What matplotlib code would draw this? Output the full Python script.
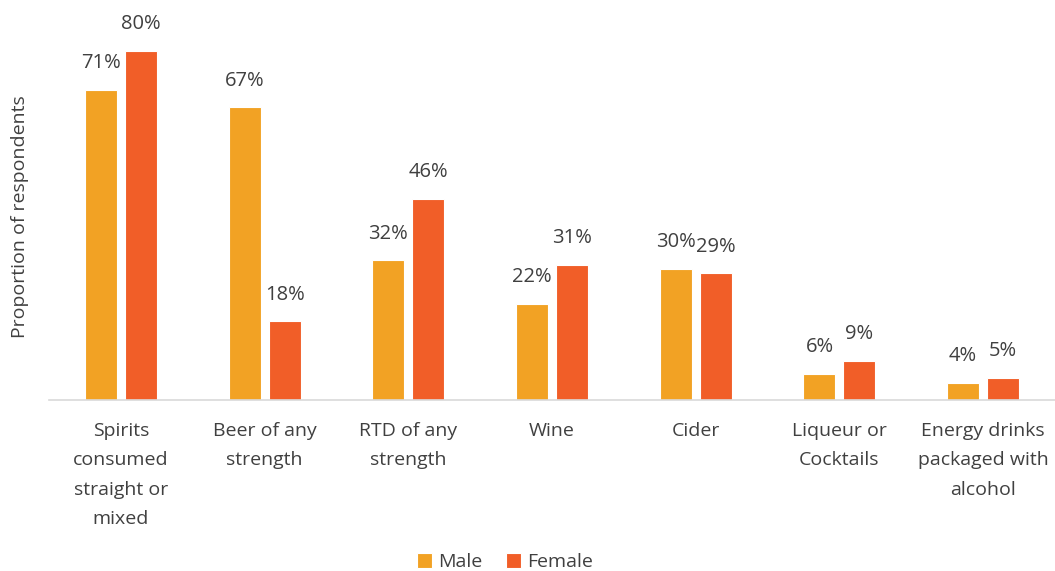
import matplotlib.pyplot as plt
import numpy as np

categories = ["Spirits\nconsumed\nstraight or\nmixed", "Beer of any\nstrength", "RTD of any\nstrength",
              "Wine", "Cider", "Liqueur or\nCocktails", "Energy drinks\npackaged with\nalcohol"]
male = [71, 67, 32, 22, 30, 6, 4]
female = [80, 18, 46, 31, 29, 9, 5]

male_color = "#F2A224"
female_color = "#F15E28"
text_color = "#404040"

plt.rcParams['font.family'] = ['Open Sans', 'DejaVu Sans']

fig = plt.figure(figsize=(10.55, 5.71), dpi=100)
ax = fig.add_axes([49 / 1055, 171 / 571, 1006 / 1055, 380 / 571])

x = np.arange(len(categories))
w = 0.223
off = 0.139
bm = ax.bar(x - off, male, w, color=male_color, edgecolor="white", linewidth=0.8, label="Male")
bf = ax.bar(x + off, female, w, color=female_color, edgecolor="white", linewidth=0.8, label="Female")

for bars in (bm, bf):
    for b in bars:
        ax.annotate(f"{b.get_height():.0f}%", (b.get_x() + b.get_width() / 2, b.get_height()),
                    xytext=(0, 12), textcoords="offset points", ha="center", va="bottom",
                    fontsize=14.5, color=text_color)

ax.set_xlim(-0.5, len(categories) - 0.5)
ax.set_ylim(0, 87)
ax.set_yticks([])
ax.set_xticks(x)
ax.set_xticklabels(categories, fontsize=14, color=text_color, linespacing=1.8, va="top")
ax.tick_params(axis="x", length=0, pad=16)
for s in ["top", "right", "left"]:
    ax.spines[s].set_visible(False)
ax.spines["bottom"].set_color("#d9d9d9")
ax.spines["bottom"].set_linewidth(1.2)

fig.text(20 / 1055, 1 - 217 / 571, "Proportion of respondents", rotation=90, ha="center", va="center",
         fontsize=14, color=text_color)

leg = fig.legend(handles=[bm, bf], loc="center", bbox_to_anchor=(505 / 1055, 1 - 562 / 571), ncol=2,
                 frameon=False, fontsize=14, handlelength=0.8, handleheight=0.8, handletextpad=0.3,
                 columnspacing=1.2, labelcolor=text_color)

fig.savefig("out.png", dpi=100)
